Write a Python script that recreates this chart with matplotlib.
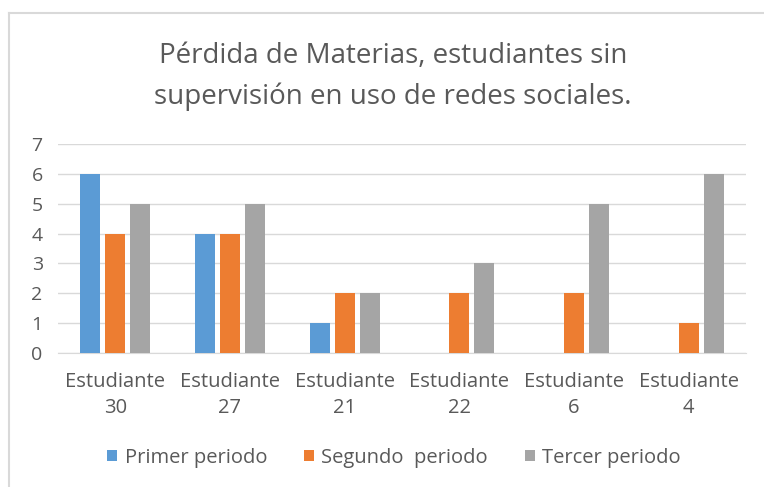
import numpy as np
import matplotlib
matplotlib.use('Agg')
import matplotlib.pyplot as plt
from matplotlib.lines import Line2D

# datos del gráfico
estudiantes = ['Estudiante\n30', 'Estudiante\n27', 'Estudiante\n21',
               'Estudiante\n22', 'Estudiante\n6', 'Estudiante\n4']
primer_periodo = [6, 4, 1, 0, 0, 0]
segundo_periodo = [4, 4, 2, 2, 2, 1]
tercer_periodo = [5, 5, 2, 3, 5, 6]
series_nombres = ['Primer periodo', 'Segundo  periodo', 'Tercer periodo']
colores = ['#5B9BD5', '#ED7D31', '#A5A5A5']

plt.rcParams['font.family'] = ['Open Sans', 'DejaVu Sans']
texto = '#595959'

fig = plt.figure(figsize=(7.64, 4.87), dpi=100)
ax = fig.add_axes([0.0759, 0.2752, 0.9005, 0.4291])

x = np.arange(len(estudiantes))
ancho = 0.174
paso = 0.218
for k, (vals, nombre) in enumerate(zip([primer_periodo, segundo_periodo, tercer_periodo], series_nombres)):
    ax.bar(x + (k - 1) * paso, vals, width=ancho, color=colores[k], label=nombre, zorder=3)

ax.set_xlim(-0.5, len(estudiantes) - 0.5)
ax.set_ylim(0, 7)
ax.set_yticks(range(0, 8))
ax.set_xticks(x)
ax.set_xticklabels(estudiantes, fontsize=14.5, color=texto, linespacing=1.35)
ax.tick_params(axis='y', labelsize=14, labelcolor=texto, length=0, pad=11)
ax.tick_params(axis='x', length=0, pad=14)
ax.grid(axis='y', color='#D9D9D9', linewidth=1, zorder=0)
for lado in ['top', 'right', 'left']:
    ax.spines[lado].set_visible(False)
ax.spines['bottom'].set_color('#D9D9D9')

fig.text(0.514, 0.843, 'Pérdida de Materias, estudiantes sin\nsupervisión en uso de redes sociales.',
         ha='center', va='center', fontsize=20, color=texto, linespacing=1.55)

ax.legend(loc='center', bbox_to_anchor=(0.516, 0.06), bbox_transform=fig.transFigure,
          ncol=3, frameon=False, fontsize=14.5, labelcolor=texto,
          handlelength=0.5, handleheight=0.5, handletextpad=0.35, columnspacing=1.85)

# marco del gráfico
fig.add_artist(Line2D([0.0118, 1.0], [1 - 13 / 487, 1 - 13 / 487], color='#D9D9D9', linewidth=1.5))
fig.add_artist(Line2D([0.0118, 0.0118], [0.0, 1 - 13 / 487], color='#D9D9D9', linewidth=1.5))

fig.savefig('out.png', dpi=100)
